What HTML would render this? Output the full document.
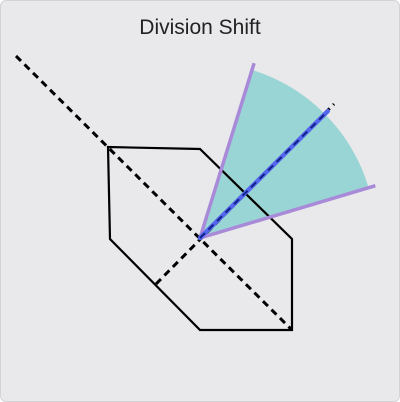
<!DOCTYPE html>
<html><head><meta charset="utf-8"><style>
html,body{margin:0;padding:0;background:#fff;}
#card{position:absolute;left:0;top:0;width:398px;height:400px;background:#e9e9eb;border:1px solid #d4d4d6;border-radius:6px;overflow:hidden;}
#title{position:absolute;left:0;top:15px;width:398px;text-align:center;font:21px "Liberation Sans",sans-serif;color:#222;}
svg{position:absolute;left:0;top:0;}
</style></head><body>
<div id="card">
<div id="title">Division Shift</div>
<svg id="chart" width="400" height="402"></svg>
</div>
<script>
const hexX=[107,199,291,291,199,109];
const hexY=[146,148,238,329,329,238];
const center=[199,237];
const wedgeAngles=[-72.8,-16.6];
const wedgeRadius=[176];
const bisectorAngle=[-44.8];
const dividerLine=[[15,55],[291,329]];
const perpLine=[[155,283],[333,103]];
const NS='http://www.w3.org/2000/svg';
const svg=document.getElementById('chart');
function mk(t,a){const e=document.createElementNS(NS,t);for(const k in a)e.setAttribute(k,a[k]);svg.appendChild(e);return e;}
function pt(ang,r){const a=ang*Math.PI/180;return [center[0]+r*Math.cos(a),center[1]+r*Math.sin(a)];}
const r=wedgeRadius[0];
const p1=pt(wedgeAngles[0],r),p2=pt(wedgeAngles[1],r);
let w=mk('path',{d:`M${center[0]},${center[1]} L${p1[0]},${p1[1]} A${r},${r} 0 0 1 ${p2[0]},${p2[1]} Z`,fill:'#9ad5d6'});


let hp=hexX.map((x,i)=>x+','+hexY[i]).join(' ');
let hx=mk('polygon',{points:hp,fill:'none',stroke:'#000','stroke-width':2.2});


let d1=mk('line',{x1:dividerLine[0][0],y1:dividerLine[0][1],x2:dividerLine[1][0],y2:dividerLine[1][1],stroke:'#000','stroke-width':3,'stroke-dasharray':'7,5'});


let d2=mk('line',{x1:perpLine[0][0],y1:perpLine[0][1],x2:perpLine[1][0],y2:perpLine[1][1],stroke:'#000','stroke-width':3,'stroke-dasharray':'7,5'});


wedgeAngles.forEach((a,i)=>{const q=pt(a,r+7);
 let l=mk('line',{x1:center[0],y1:center[1],x2:q[0],y2:q[1],stroke:'#a98ad8','stroke-width':3.5});
 
 });
const b=pt(bisectorAngle[0],180);
let bl=mk('line',{x1:center[0],y1:center[1],x2:b[0],y2:b[1],stroke:'#5566ee','stroke-width':4.5,'stroke-linecap':'round'});


let bd=mk('line',{x1:center[0],y1:center[1],x2:b[0],y2:b[1],stroke:'#112288','stroke-width':2,'stroke-dasharray':'7,5'});


</script>
</body></html>
